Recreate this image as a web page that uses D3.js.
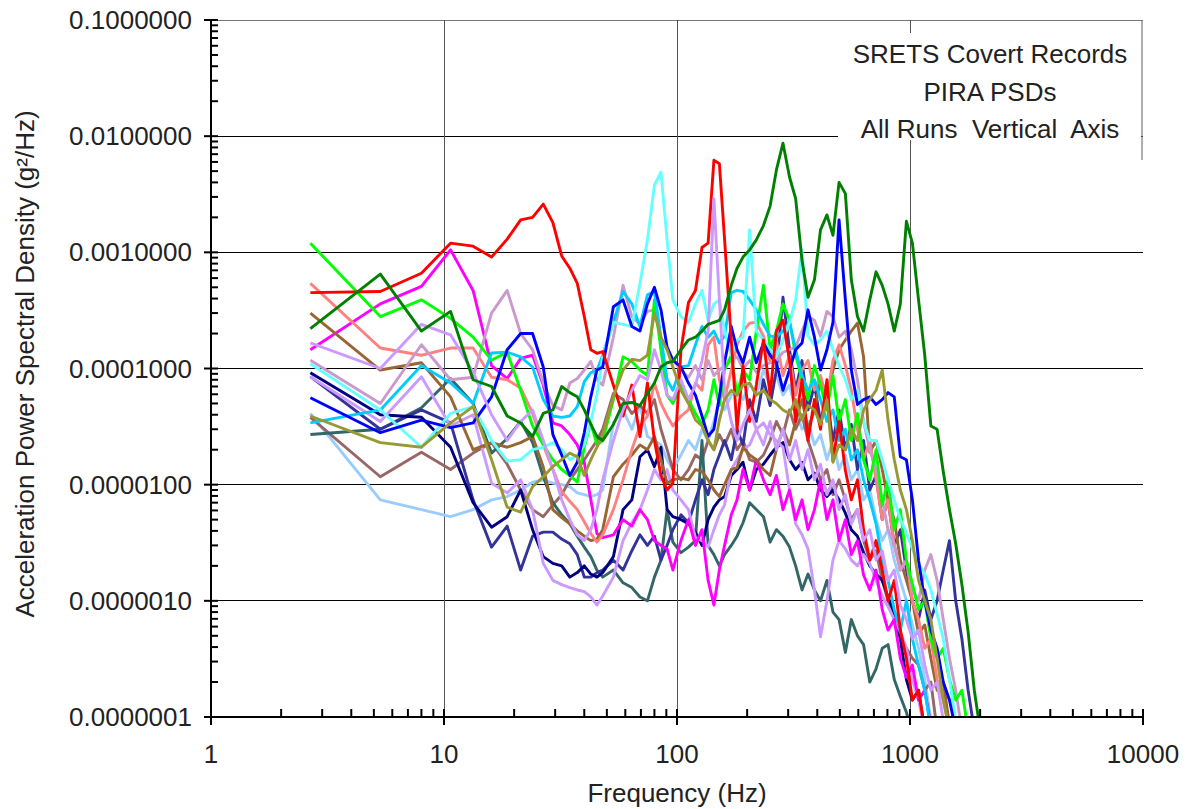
<!DOCTYPE html>
<html><head><meta charset="utf-8">
<script src="https://cdn.jsdelivr.net/npm/d3@7"></script>
<style>
html,body{margin:0;padding:0;background:#fff;}
svg{display:block;}
text{font-family:"Liberation Sans",Arial,Helvetica,sans-serif;fill:#222;}
</style></head><body>
<svg id="chart" width="1188" height="809"></svg>
<script>
// ---- DATA ----
const freq = [2.67,5.33,8,10.67,13.33,16,18.67,21.33,24,26.67,29.33,32,34.67,37.33,40,42.67,45.33,48,53.33,58.67,64,69.33,74.67,80,85.33,90.67,96,104,112,120,128,136,144,152,160,171,181,192,205,219,235,251,267,285,304,323,344,365,389,413,440,467,496,528,560,595,632,672,715,760,805,856,909,965,1024,1088,1157,1229,1307,1389,1477,1571,1670,1776,1888,2000];

const xTicks = [1,10,100,1000,10000];
const yTicks = [1e-7,1e-6,1e-5,1e-4,1e-3,1e-2,1e-1];
const titleLines = ["SRETS Covert Records","PIRA PSDs","All Runs  Vertical  Axis"];
const xTitle = "Frequency (Hz)";
const yTitle = "Acceleration Power Spectral Density (g²/Hz)";

const lightBlue = [4.1e-5,7.4e-6,6.1e-6,5.3e-6,6.1e-6,7.4e-6,7.9e-6,9e-6,1.05e-5,1.1e-5,1.03e-5,1e-5,9.6e-6,8.5e-6,8.2e-6,7.9e-6,8.2e-6,9e-6,3.4e-5,4.4e-5,3e-5,4.8e-5,2.6e-5,2.4e-5,2.2e-5,1.64e-5,1.35e-5,1.8e-5,2.4e-5,2e-5,3e-5,2.4e-5,3.5e-5,5.4e-5,4.4e-5,5.9e-5,6.5e-5,5.4e-5,7.5e-5,5.9e-5,9.7e-5,7.2e-5,8.7e-5,5.9e-5,7.2e-5,4.4e-5,3e-5,3.5e-5,2.2e-5,2.7e-5,1.64e-5,2.4e-5,1.35e-5,1.8e-5,1.1e-5,1.35e-5,7.4e-6,9e-6,5e-6,3.3e-6,4.1e-6,2.24e-6,1.5e-6,1e-6,6.2e-7,3.9e-7,2.1e-7,9.4e-8];
const rosyBrown = [3.8e-5,1.17e-5,1.9e-5,1.35e-5,1.87e-5,2.3e-5,1.5e-5,9e-6,6.1e-6,5.3e-6,6.7e-6,8.2e-6,1.1e-5,1.35e-5,1.64e-5,2e-5,2.4e-5,3e-5,6.1e-5,5.4e-5,4.1e-5,4.8e-5,4.1e-5,5.4e-5,3e-5,2e-5,1.35e-5,1.1e-5,1.35e-5,1.8e-5,1.64e-5,2.4e-5,2e-5,2.7e-5,2.2e-5,3e-5,2e-5,2.4e-5,1.64e-5,1.56e-5,1.8e-5,2.4e-5,3.5e-5,2.7e-5,4.4e-5,3e-5,4e-5,2.4e-5,1.64e-5,1.1e-5,1.35e-5,8.2e-6,1.1e-5,7.4e-6,5e-6,6.1e-6,3.3e-6,2.24e-6,2.7e-6,1.5e-6,1e-6,6.9e-7,4.7e-7,3.9e-7,3.2e-7,2.8e-7,1.7e-7,2e-7,7.7e-8];
const slateGray = [2.7e-5,3e-5,4.6e-5,8.2e-5,5e-5,1.87e-5,2.5e-5,3.5e-5,2.3e-5,1.17e-5,7e-6,5.5e-6,4.6e-6,3.6e-6,2.9e-6,2.4e-6,1.84e-6,1.6e-6,1.84e-6,1.43e-6,1.3e-6,1.08e-6,1e-6,1.6e-6,2.24e-6,6.1e-6,3.2e-6,2.6e-6,2.9e-6,3.3e-6,2.4e-5,3e-6,2.5e-6,2e-6,2.5e-6,3e-6,3.6e-6,4.7e-6,7e-6,6.1e-6,5.3e-6,3.2e-6,4.1e-6,3.6e-6,2.9e-6,2e-6,1.24e-6,1.7e-6,1.24e-6,1e-6,1.5e-6,8e-7,6.9e-7,3.6e-7,6.9e-7,5e-7,4.2e-7,2e-7,2.6e-7,3.9e-7,4.2e-7,2.1e-7,1.5e-7,1.1e-7,7e-8];
const slateBlue = [8.5e-5,3e-5,4.4e-5,3.4e-5,7.4e-6,2.9e-6,4.4e-6,1.84e-6,3.6e-6,3.9e-6,3.9e-6,3.4e-6,3.1e-6,2.5e-6,1.6e-6,1.6e-6,1.75e-6,1.84e-6,2.24e-6,1.84e-6,2.7e-6,3.7e-6,3e-6,3.6e-6,2.24e-6,3e-6,4.1e-6,5.5e-6,4.7e-6,7.4e-6,1.1e-5,8.2e-6,1.35e-5,1.8e-5,2.4e-5,1.64e-5,3e-5,2.2e-5,5.4e-5,3.5e-5,8e-5,4.8e-5,9.7e-5,4.1e-4,1.45e-4,6.5e-5,1.17e-4,4.4e-5,7.2e-5,3.5e-5,5.4e-5,2.4e-5,4.4e-5,2e-5,3.3e-5,1.35e-5,2.4e-5,9e-6,1.2e-5,5e-6,7.4e-6,3e-6,4.1e-6,1.84e-6,1e-6,6.9e-7,1.24e-6,6.9e-7,1e-6,1.84e-6,3.3e-6,1e-6,4.7e-7,1.7e-7,7.7e-8];
const navy = [9.2e-5,4e-5,3.8e-5,2.1e-5,7e-6,4.3e-6,5.3e-6,9e-6,4.1e-6,2.4e-6,2.1e-6,2e-6,1.6e-6,1.75e-6,2e-6,1.7e-6,1.6e-6,1.75e-6,2.4e-6,6.1e-6,7.4e-6,1.74e-5,2e-5,1.43e-5,2.1e-5,6.1e-6,5.3e-6,5e-6,4.6e-6,3.9e-6,3e-6,5e-6,6.4e-6,7.4e-6,7.9e-6,1.2e-5,1.35e-5,1.56e-5,9e-6,1.35e-5,1.5e-5,1.8e-5,2.1e-5,2.3e-5,1.64e-5,1.35e-5,1.56e-5,1.1e-5,1.26e-5,9e-6,7.9e-6,9e-6,7.4e-6,5.7e-6,4.1e-6,3.6e-6,2.6e-6,2e-6,1.7e-6,1.5e-6,1.08e-6,7.9e-7,4.7e-7,2.1e-7,1.4e-7,1.7e-7,7.7e-8];
const lavenderLow = [8.5e-5,3.5e-5,8.5e-5,3.2e-5,4e-5,1.03e-5,8.5e-6,1.1e-5,6.1e-6,2.1e-6,1.5e-6,1.38e-6,1.3e-6,1.24e-6,1.2e-6,1.08e-6,9.2e-7,1.1e-6,1.6e-6,3.3e-6,4.7e-6,6.1e-6,9e-6,1.35e-5,1.1e-5,1.35e-5,9e-6,7.4e-6,6.1e-6,3.5e-6,3.3e-6,2.9e-6,4.1e-6,5.5e-6,6.7e-6,1.35e-5,1.64e-5,2e-5,2.2e-5,3e-5,3.4e-5,2.7e-5,2.4e-5,2.1e-5,9e-6,4.6e-6,3.7e-6,2.8e-6,1.24e-6,4.9e-7,1e-6,2.24e-6,3.3e-6,2.8e-6,2.24e-6,2e-6,2.5e-6,2.1e-6,1.5e-6,1.1e-6,8.9e-7,6.9e-7,5.4e-7,3.9e-7,2.1e-7,1.4e-7,7.7e-8];
const magenta = [1.45e-4,3.6e-4,5.1e-4,1.05e-3,4.7e-4,1.06e-4,8.2e-5,1.22e-4,1.3e-4,7.2e-5,3.4e-5,3.2e-5,2.7e-5,2.2e-5,1.56e-5,7.4e-6,3.8e-6,3.5e-6,3.7e-6,5e-6,4.4e-6,6.1e-6,5e-6,3.3e-6,3e-6,2.8e-6,1.84e-6,3.3e-6,5e-6,3e-6,4.1e-6,1.5e-6,9.2e-7,1.84e-6,3e-6,5.5e-6,7.4e-6,1.35e-5,9e-6,1.64e-5,1.1e-5,8.2e-6,1.2e-5,6.1e-6,9e-6,5e-6,7.4e-6,4.1e-6,6.1e-6,1.1e-5,5e-6,7.4e-6,3.3e-6,5e-6,2.5e-6,3.3e-6,1.67e-6,1.24e-6,1.84e-6,8.4e-7,5.6e-7,6.9e-7,3.2e-7,2.2e-7,2.8e-7,1.4e-7,1.7e-7,8.5e-8];
const brown = [3.0e-4,9.7e-5,1.12e-4,5.7e-5,2e-5,2.3e-5,2.1e-5,2.3e-5,2.6e-5,1.42e-5,6.1e-6,5.2e-6,4.6e-6,4e-6,3.6e-6,3.3e-6,3.4e-6,4.1e-6,1.17e-5,1.5e-5,1.8e-5,2.2e-5,2e-5,2.6e-5,1.64e-5,1.03e-5,1.1e-5,1.14e-5,1.1e-5,1.35e-5,1.3e-5,1.1e-5,9e-6,7.9e-6,1e-5,1.35e-5,1.4e-5,2.1e-5,1.8e-5,1.64e-5,1.35e-5,1.2e-5,2e-5,3e-5,2.2e-5,3.5e-5,5.4e-5,3e-5,4.4e-5,8e-5,5.9e-5,9.7e-5,1.45e-4,1.76e-4,2.1e-4,2.46e-4,1.26e-4,1.9e-5,2.4e-5,1.35e-5,7.4e-6,5e-6,2.24e-6,1.5e-6,1e-6,5.2e-7,6.2e-7,3.2e-7,1.7e-7,2e-7,8.5e-8];
const salmon = [5.4e-4,1.5e-4,1.3e-4,1.5e-4,1.5e-4,8.4e-5,8e-5,6.8e-5,4.1e-5,2.2e-5,1.35e-5,8.7e-6,7.2e-6,6.1e-6,4.8e-6,3.8e-6,3.2e-6,3.7e-6,6.1e-6,1.1e-5,2e-5,3.2e-5,3.9e-5,7.5e-5,5e-5,3.9e-5,3.2e-5,3.9e-5,4.4e-5,7.5e-5,6.5e-5,1.6e-4,1.86e-4,8e-5,5.4e-5,9.7e-5,1.6e-4,2.1e-4,2.46e-4,2.5e-4,1.9e-4,1.17e-4,1.76e-4,8.7e-5,1.3e-4,5.9e-5,9.7e-5,1.17e-4,6.5e-5,8.7e-5,5.4e-5,1.17e-4,1.6e-4,1.06e-4,6.5e-5,3e-5,1.64e-5,2.4e-5,1.1e-5,5e-6,7.4e-6,3e-6,1.84e-6,2.24e-6,1e-6,6.9e-7,3.9e-7,4.7e-7,2.1e-7,1.4e-7,7.7e-8];
const mauve = [1.18e-4,5e-5,1.6e-4,8e-5,8.4e-5,3e-4,4.7e-4,2e-4,1.45e-4,7.5e-5,4.8e-5,4.4e-5,7.5e-5,8.2e-5,9.7e-5,1.15e-4,8e-5,7.2e-5,1.86e-4,5.2e-4,2.8e-4,2.4e-4,3.1e-4,3.2e-4,1.83e-4,1.45e-4,1.18e-4,9.7e-5,8.4e-5,1.06e-4,8e-5,1.17e-4,8.7e-5,9.7e-5,1.06e-4,1.17e-4,1.26e-4,1e-4,1.17e-4,9.3e-5,1.06e-4,1.12e-4,1.17e-4,1.38e-4,1.45e-4,1.53e-4,2.1e-4,2.8e-4,2.6e-4,1.9e-4,3.1e-4,2.8e-4,1.86e-4,2.1e-4,1.45e-4,8e-5,3.5e-5,2e-5,1.35e-5,7.4e-6,4.1e-6,3.1e-6,1.84e-6,2.24e-6,1.24e-6,1e-6,1.84e-6,2.5e-6,1.5e-6,6.9e-7,3.2e-7,1.7e-7,7.7e-8];
const lime = [1.2e-3,2.8e-4,3.9e-4,2.7e-4,1.86e-4,1.18e-4,1.38e-4,6.5e-5,3.2e-5,2.2e-5,1.64e-5,1.35e-5,1.2e-5,1.05e-5,2.1e-5,3.4e-5,2.2e-5,2.4e-5,5.4e-5,1.26e-4,1.15e-4,9.7e-5,8.7e-5,3.9e-4,1.45e-4,5.9e-5,5e-5,7.2e-5,5.4e-5,4.1e-5,3.3e-5,4.4e-5,8e-5,4.8e-5,9.7e-5,1.3e-4,5.9e-5,9.7e-5,8e-5,2.1e-4,5.2e-4,1.45e-4,2.1e-4,3.6e-4,2.6e-4,1.3e-4,8e-5,5.4e-5,1.06e-4,7.2e-5,4.4e-5,8.7e-5,3.5e-5,5.4e-5,2.4e-5,4.1e-5,1.64e-5,1.1e-5,2e-5,6.7e-6,1.1e-5,4.1e-6,6.1e-6,2.24e-6,1.4e-6,8.4e-7,1e-6,4.7e-7,3.2e-7,3.9e-7,2.1e-7,1.4e-7,1.7e-7,7.7e-8];
const skyBlue = [3.4e-5,4.4e-5,1.06e-4,7.5e-5,5e-5,1.36e-4,1.38e-4,1.26e-4,1.03e-4,5.4e-5,3.9e-5,3.8e-5,3.9e-5,4.7e-5,7.7e-5,9.2e-5,9.7e-5,1.3e-4,2.5e-4,4.6e-4,3.6e-4,2.3e-4,4.3e-4,4.6e-4,1.86e-4,8e-5,6.5e-5,1.03e-4,1.06e-4,1.6e-4,2.3e-4,1.86e-4,2.1e-4,1.66e-4,1.9e-4,4.5e-4,4.7e-4,4.6e-4,3.9e-4,3.2e-4,2.4e-4,1.9e-4,1.86e-4,2.1e-4,2.5e-4,1.45e-4,8.7e-5,6.5e-5,8e-5,5.4e-5,3.5e-5,4.4e-5,2.4e-5,3e-5,1.64e-5,2e-5,1.1e-5,7.4e-6,4.6e-6,2.24e-6,1.5e-6,8.4e-7,5.6e-7,1e-6,4.7e-7,2.8e-7,1.7e-7,7.7e-8];
const lightCyan = [1.1e-4,4.4e-5,2.1e-5,4.1e-5,4.7e-5,2.4e-5,1.6e-5,1.64e-5,2e-5,2.1e-5,2.3e-5,2e-5,1.64e-5,1.8e-5,2.2e-5,3.5e-5,6e-5,1.26e-4,2.5e-4,2.4e-4,2.3e-4,5.4e-4,1.28e-3,3.8e-3,4.9e-3,1.28e-3,3.9e-4,2.8e-4,2.5e-4,3.6e-4,4.7e-4,2.6e-4,3.6e-4,3.9e-4,2.1e-4,1.3e-4,1.76e-4,1.86e-4,1.56e-3,2.1e-4,1.76e-4,1.45e-4,1.26e-4,1.76e-4,2.5e-4,3.9e-4,1.05e-3,1.9e-4,1.6e-4,1.76e-4,2.1e-4,1.45e-4,1.06e-4,8e-5,5.4e-5,6.5e-5,3.5e-5,2.4e-5,2.4e-5,1.64e-5,1.1e-5,7.4e-6,5e-6,3.9e-6,2.8e-6,2.1e-6,1.7e-6,1.24e-6,7.7e-7,4.7e-7,2.1e-7,9.4e-8];
const blue = [5.6e-5,2.8e-5,3.6e-5,3.1e-5,3.4e-5,5.7e-5,1.45e-4,2e-4,2e-4,1.03e-4,2.7e-5,1.8e-5,1.2e-5,1.56e-5,2.8e-5,5.7e-5,9.7e-5,1.03e-4,3.4e-4,3.9e-4,2.3e-4,2.1e-4,3.6e-4,5e-4,3.2e-4,1.53e-4,1.18e-4,1.03e-4,7.5e-5,5.9e-5,3.9e-5,2.6e-5,3e-5,5.7e-5,1.12e-4,2.3e-4,1.45e-4,1.12e-4,1.86e-4,1.12e-4,1.66e-4,1.3e-4,1.12e-4,6.5e-5,9.7e-5,1.45e-4,1.66e-4,3.2e-4,1.86e-4,9.7e-5,1.45e-4,2.5e-4,1.9e-3,3.9e-4,9.7e-5,4.9e-5,5.4e-5,5.7e-5,4.9e-5,5.4e-5,6.2e-5,5.7e-5,1.74e-5,1.64e-5,7.4e-6,2.24e-6,1e-6,5.6e-7,3.9e-7,2e-7,1.4e-7,7.7e-8];
const red = [4.5e-4,4.6e-4,6.6e-4,1.2e-3,1.13e-3,9.1e-4,1.3e-3,1.9e-3,2.0e-3,2.6e-3,1.8e-3,9.3e-4,7.3e-4,5.4e-4,2.8e-4,1.45e-4,1.35e-4,1.4e-4,7.2e-5,3.9e-5,7.2e-5,2.6e-5,7.5e-5,2.4e-5,1.2e-5,9e-6,1.03e-5,1.45e-4,3.7e-4,4.7e-4,1.1e-3,1.2e-3,6.2e-3,5.8e-3,1.3e-3,1.76e-4,3e-5,1.06e-4,3.5e-5,7.2e-5,1.76e-4,5.9e-5,2.1e-4,2.6e-4,1.17e-4,3.5e-5,8e-5,2.4e-5,5.4e-5,3e-5,8e-5,1.6e-5,3.5e-5,1.33e-5,7.4e-6,1.1e-5,4.1e-6,2.24e-6,3.3e-6,1.84e-6,1e-6,1.5e-6,5.6e-7,3.2e-7,1.4e-7,1.7e-7,7.7e-8];
const lavender = [1.66e-4,1e-4,2.4e-4,1.95e-4,9.3e-5,4e-5,2.4e-5,3.5e-5,4.4e-5,2.4e-5,1.35e-5,7.4e-6,5e-6,3.7e-6,3.3e-6,4.1e-6,6.1e-6,1.1e-5,2.4e-5,4.4e-5,6.5e-5,8.7e-5,8e-5,1.45e-4,9.7e-5,5.9e-5,5.4e-5,8e-5,5.4e-5,7.2e-5,1.17e-4,2.1e-4,2.9e-3,3.9e-4,6.5e-5,3.5e-5,2.4e-5,3.3e-5,4.4e-5,3e-5,2.2e-5,3.5e-5,2e-5,3e-5,1.64e-5,2.4e-5,1.35e-5,2e-5,1.1e-5,1.5e-5,8.2e-6,1.1e-5,6.1e-6,8.2e-6,4.6e-6,6.1e-6,3.3e-6,4.1e-6,2.24e-6,2.7e-6,1.5e-6,1.84e-6,9.2e-7,6.9e-7,4.7e-7,5.6e-7,2.8e-7,1.7e-7,2e-7,9.4e-8];
const olive = [3.9e-5,2.3e-5,2.1e-5,3.4e-5,4.7e-5,1.64e-5,6.4e-6,5.8e-6,9.6e-6,1.17e-5,1.43e-5,1.64e-5,1.87e-5,1.74e-5,1.2e-5,1.64e-5,2.1e-5,2.7e-5,5.7e-5,9.7e-5,1.2e-4,1.17e-4,1.3e-4,3e-4,1.86e-4,1.45e-4,1.03e-4,6.5e-5,5e-5,3.6e-5,3.2e-5,2.4e-5,2e-5,3.6e-5,5.4e-5,6.5e-5,5.9e-5,7.2e-5,7.5e-5,5.9e-5,6.5e-5,5.4e-5,5e-5,4.4e-5,4.1e-5,5.4e-5,3.6e-5,4.8e-5,4.4e-5,3.3e-5,5.4e-5,1.56e-5,2.2e-5,2e-5,3e-5,2.4e-5,4.4e-5,5.4e-5,6.5e-5,9.7e-5,3.6e-5,1.64e-5,9e-6,6.1e-6,3.3e-6,1.5e-6,1e-6,6.9e-7,3.2e-7,1.4e-7,7.7e-8];
const darkGreen = [2.2e-4,6.5e-4,2.1e-4,3.1e-4,8e-5,7e-5,3.9e-5,3.4e-5,2.6e-5,4.1e-5,4.4e-5,7e-5,6.2e-5,5.7e-5,4.4e-5,3.3e-5,2.6e-5,2.4e-5,3.3e-5,5e-5,5.1e-5,4.8e-5,6.1e-5,7.5e-5,1.03e-4,1.12e-4,1.15e-4,1.45e-4,1.76e-4,1.86e-4,2.1e-4,2.4e-4,2.5e-4,2.6e-4,3.2e-4,5.2e-4,7.3e-4,9.1e-4,1.05e-3,1.28e-3,1.7e-3,2.5e-3,5.1e-3,8.7e-3,4.45e-3,2.9e-3,8.5e-4,4.1e-4,5.8e-4,1.56e-3,2.1e-3,1.4e-3,4.0e-3,3.2e-3,5.8e-4,2.8e-4,2.1e-4,3.9e-4,6.8e-4,5.2e-4,3.6e-4,2.1e-4,3.6e-4,1.85e-3,1.2e-3,3.9e-4,1.3e-4,3.2e-5,3e-5,1.3e-5,6.1e-6,3.1e-6,1.38e-6,5.4e-7,1.7e-7,7.7e-8];

const seriesNames = ["lightBlue","rosyBrown","slateGray","slateBlue","navy","lavenderLow","magenta","brown","salmon","mauve","lime","skyBlue","lightCyan","blue","red","lavender","olive","darkGreen"];
const seriesValues = [lightBlue,rosyBrown,slateGray,slateBlue,navy,lavenderLow,magenta,brown,salmon,mauve,lime,skyBlue,lightCyan,blue,red,lavender,olive,darkGreen];
const seriesColors = ["#99CCFF","#996666","#336666","#333399","#000080","#CC99FF","#FF00FF","#996633","#FF8080","#CC99CC","#00FF00","#00CCFF","#66FFFF","#0000FF","#FF0000","#CC99FF","#999933","#008000"];

// ---- CHART ----
const L = 211, R = 1143, T = 20, B = 717;
const svg = d3.select("#chart");
const x = d3.scaleLog().domain([1, 10000]).range([L, R]);
const y = d3.scaleLog().domain([1e-7, 1e-1]).range([B, T]);

// gridlines
const grid = svg.append("g");
yTicks.forEach(v => {
  if (v === 1e-7) return;
  grid.append("line").attr("x1", L).attr("x2", R).attr("y1", y(v)).attr("y2", y(v))
    .attr("stroke", v === 1e-1 ? "#777" : "#000").attr("stroke-width", 1).attr("shape-rendering","crispEdges");
});
xTicks.forEach(v => {
  if (v === 1 || v === 10000) return;
  grid.append("line").attr("x1", x(v)).attr("x2", x(v)).attr("y1", T).attr("y2", B)
    .attr("stroke", "#555").attr("stroke-width", 1).attr("shape-rendering","crispEdges");
});

// series
svg.append("clipPath").attr("id","plotclip").append("rect")
  .attr("x", L).attr("y", T).attr("width", R - L).attr("height", B - T);
const line = d3.line().x(d => x(d[0])).y(d => y(d[1]));
const plot = svg.append("g").attr("clip-path","url(#plotclip)");
seriesValues.forEach((vals, i) => {
  const pts = vals.map((v, k) => [freq[k], v]);
  plot.append("path").datum(pts).attr("d", line)
    .attr("fill","none").attr("stroke", seriesColors[i]).attr("stroke-width", 2.9)
    .attr("stroke-linejoin","round").attr("class", seriesNames[i]);
});

// title box
svg.append("rect").attr("x", 838).attr("y", 33).attr("width", 303).attr("height", 107).attr("fill","#fff");
svg.append("line").attr("x1", 1142).attr("x2", 1142).attr("y1", T).attr("y2", 160)
  .attr("stroke","#777").attr("stroke-width",1.2);
const tb = [63, 101, 138];
titleLines.forEach((t, i) => {
  svg.append("text").attr("x", 990).attr("y", tb[i]).attr("text-anchor","middle")
    .attr("font-size", 26).style("white-space","pre").text(t);
});

// axes
const ax = svg.append("g").attr("stroke","#000").attr("stroke-width",2);
ax.append("line").attr("x1", L).attr("x2", L).attr("y1", T).attr("y2", B + 8);
ax.append("line").attr("x1", L - 7).attr("x2", R).attr("y1", B).attr("y2", B);
// y ticks
for (let e = -7; e < -1; e++) {
  for (let m = 2; m <= 9; m++) {
    const v = m * Math.pow(10, e);
    ax.append("line").attr("x1", L).attr("x2", L + 7).attr("y1", y(v)).attr("y2", y(v));
  }
}
yTicks.forEach(v => {
  ax.append("line").attr("x1", L - 7).attr("x2", L + 7).attr("y1", y(v)).attr("y2", y(v));
  svg.append("text").attr("x", 192).attr("y", y(v) + 9).attr("text-anchor","end")
    .attr("font-size", 26).text(d3.format(".7f")(v));
});
// x ticks
for (let e = 0; e < 4; e++) {
  for (let m = 2; m <= 9; m++) {
    const v = m * Math.pow(10, e);
    ax.append("line").attr("x1", x(v)).attr("x2", x(v)).attr("y1", B - 8).attr("y2", B);
  }
}
xTicks.forEach(v => {
  ax.append("line").attr("x1", x(v)).attr("x2", x(v)).attr("y1", B - 8).attr("y2", B + 8);
  svg.append("text").attr("x", x(v)).attr("y", 763).attr("text-anchor","middle")
    .attr("font-size", 26).text(String(v));
});

// axis titles
svg.append("text").attr("x", 677).attr("y", 802).attr("text-anchor","middle")
  .attr("font-size", 26).text(xTitle);
svg.append("text").attr("transform","translate(34,364) rotate(-90)").attr("text-anchor","middle")
  .attr("font-size", 26).text(yTitle);
</script>
</body></html>
